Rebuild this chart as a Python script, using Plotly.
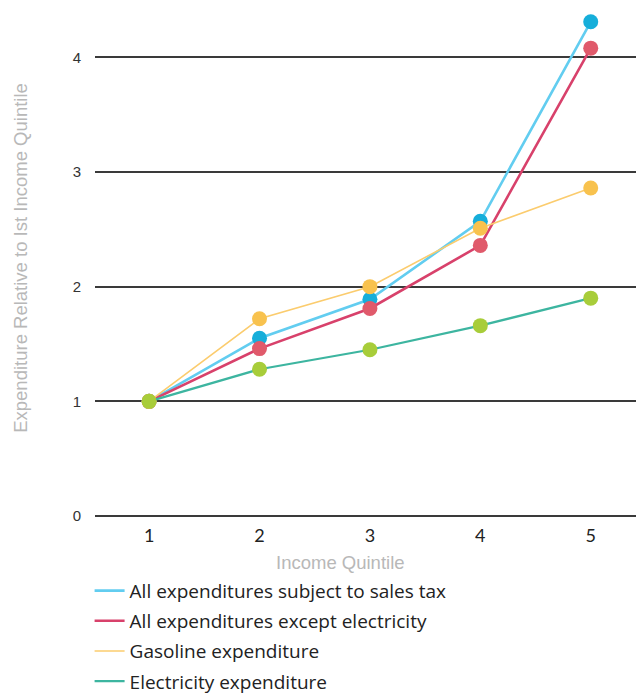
import plotly.graph_objects as go

quintiles = [1, 2, 3, 4, 5]
series_names = [
    "All expenditures subject to sales tax",
    "All expenditures except electricity",
    "Gasoline expenditure",
    "Electricity expenditure",
]
all_taxable = [1.00, 1.55, 1.89, 2.57, 4.31]
except_electricity = [1.00, 1.46, 1.81, 2.36, 4.08]
gasoline = [1.00, 1.72, 2.00, 2.51, 2.86]
electricity = [1.00, 1.28, 1.45, 1.66, 1.90]
y_ticks = [0, 1, 2, 3, 4]

values = [all_taxable, except_electricity, gasoline, electricity]
line_colors = ["#62CDF0", "#D8416B", "#FBCC6E", "#3DB5A0"]
marker_colors = ["#16AEDA", "#E05A6B", "#F8C24E", "#A8CD3A"]
line_widths = [2.6, 2.6, 1.6, 2.2]

fig = go.Figure()
for i, (name, ys) in enumerate(zip(series_names, values)):
    fig.add_trace(go.Scatter(
        x=quintiles, y=ys, name=name, mode="lines",
        line=dict(color=line_colors[i], width=line_widths[i]),
        legendgroup=f"g{i}",
    ))
    fig.add_trace(go.Scatter(
        x=quintiles, y=ys, mode="markers", showlegend=False,
        marker=dict(color=marker_colors[i], size=15),
        legendgroup=f"g{i}", hoverinfo="skip",
    ))

fig.update_layout(
    width=636, height=695,
    margin=dict(l=95, r=0, t=0, b=179, autoexpand=False),
    paper_bgcolor="white", plot_bgcolor="white",
    showlegend=True,
    legend=dict(
        x=-0.01, xanchor="left", y=-0.108, yanchor="top",
        font=dict(family="Open Sans", size=19, color="#222222"),
        traceorder="grouped", tracegroupgap=2.5,
        bgcolor="rgba(0,0,0,0)", borderwidth=0,
    ),
    xaxis=dict(
        range=[0.51, 5.41], tickvals=quintiles,
        showgrid=False, zeroline=False, showline=False,
        tickfont=dict(family="Lato", size=18, color="#222222"),
        ticklabelstandoff=7,
    ),
    yaxis=dict(
        range=[0, 4.5], tickvals=y_ticks,
        showgrid=True, gridcolor="#3a3a3a", gridwidth=1.6,
        zeroline=True, zerolinecolor="#3a3a3a", zerolinewidth=1.6,
        showline=False,
        tickfont=dict(family="Liberation Sans", size=15, color="#333333"),
        ticklabelstandoff=13,
        title=dict(text="Expenditure Relative to Ist Income Quintile", standoff=40,
                   font=dict(family="Liberation Sans", size=18.5, color="#B8B8B8")),
    ),
    annotations=[dict(
        text="Income Quintile", xref="paper", yref="paper",
        x=0.453, y=-0.091, xanchor="center", yanchor="middle", showarrow=False,
        font=dict(family="Liberation Sans", size=18.5, color="#B8B8B8"),
    )],
)

fig.write_html("out.html")
